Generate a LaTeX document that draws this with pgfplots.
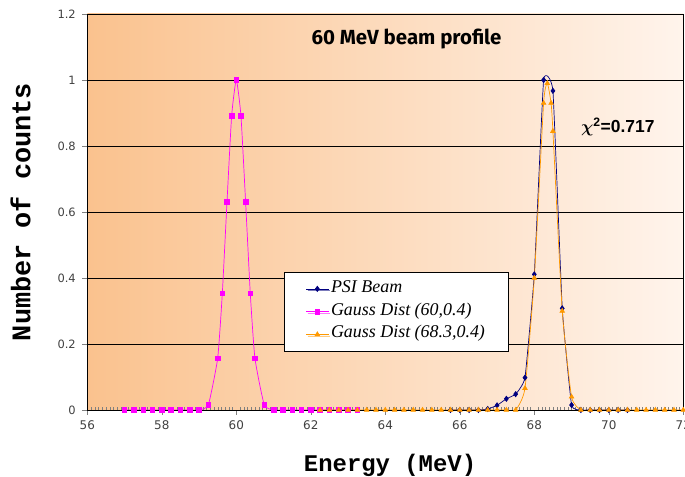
\documentclass[border=0pt]{standalone}
\usepackage{pgfplots}
\pgfplotsset{compat=1.18}
\usepackage{fontspec}
\usepackage{amsmath}
\usetikzlibrary{shadows}
\setmainfont{Liberation Serif}
\newfontfamily\monofont{Liberation Mono}
\newfontfamily\tickfont{DejaVu Sans}
\newfontfamily\arialfont{Liberation Sans}
\newfontfamily\titlefont{Fira Sans}
\definecolor{psiblue}{HTML}{000080}
\definecolor{gpink}{HTML}{FF00FF}
\definecolor{gorange}{HTML}{FF9900}
\definecolor{bgleft}{HTML}{FAC28E}
\definecolor{bgright}{HTML}{FFF4EC}

\begin{document}
\begin{tikzpicture}
\begin{axis}[
  at={(0,0)}, anchor=south west,
  scale only axis, width=596bp, height=396bp,
  xmin=56, xmax=72, ymin=0, ymax=1.2,
  xtick={56,58,...,72},
  xticklabels={56,58,60,62,64,66,68,70,72},
  ytick={0,0.2,0.4,0.6,0.8,1,1.2},
  yticklabels={0,0.2,0.4,0.6,0.8,1,1.2},
  /pgf/number format/assume math mode=true,
  minor x tick num=19,
  xtick pos=bottom, ytick pos=left,
  tick align=outside,
  major tick length=5bp, minor tick length=3bp,
  minor x tick style={yshift=3bp},
  ymajorgrids,
  grid style={black, line width=0.6bp},
  axis line style={black, line width=0.75bp},
  axis background/.style={left color=bgleft, right color=bgright},
  tick label style={text=black!75},
  xticklabel style={font=\tickfont\fontsize{12}{14}\selectfont, yshift=-2bp},
  yticklabel style={font=\tickfont\fontsize{11.5}{13}\selectfont, xshift=-3bp},
  xlabel={Energy (MeV)}, ylabel={Number of counts},
  xlabel style={font=\monofont\bfseries\fontsize{24}{28}\selectfont,
    at={(axis description cs:0.508,-0.139)}, anchor=center},
  ylabel style={font=\monofont\bfseries\fontsize{27}{30}\selectfont,
    at={(axis description cs:-0.112,0.5)}, anchor=center},
  legend style={at={(axis cs:61.29,0.418)}, anchor=north west,
    draw=black, fill=white, line width=0.6bp,
    font=\itshape\fontsize{18}{20}\selectfont,
    cells={anchor=west},
    nodes={text height=10bp, text depth=3bp, inner sep=2bp},
    row sep=5.8bp, inner xsep=21bp, inner ysep=8bp,
    drop shadow={shadow xshift=1.5bp, shadow yshift=-1.5bp, fill=black!45}},
  legend image code/.code={\draw[mark repeat=2,mark phase=2,#1]
    plot coordinates {(0cm,0cm) (0.4cm,0cm) (0.8cm,0cm)};},
  every axis plot/.append style={line width=0.7bp, smooth, tension=0.3},
]
% PSI beam
\addplot[color=psiblue, tension=0.2, mark=diamond*, mark size=2.6bp, mark options={solid, fill=psiblue}] coordinates {
  (65.75,0) (66.0,0) (66.25,0) (66.5,0) (66.75,0.003) (67.0,0.014)
  (67.25,0.034) (67.5,0.048) (67.75,0.098) (68.0,0.411) (68.25,1.0)
  (68.5,0.967) (68.75,0.308) (69.0,0.015) (69.25,0) (69.5,0) (69.75,0)
  (70.0,0) (70.25,0) (70.5,0)
};
\addlegendentry{PSI Beam}
% Gauss (60,0.4)
\addplot[color=gpink, mark=square*, mark size=2.3bp, mark options={solid, fill=gpink}] coordinates {
  (57.0,0) (57.25,0) (57.5,0) (57.75,0) (58.0,0) (58.25,0) (58.5,0)
  (58.75,0) (59.0,0) (59.25,0.016) (59.5,0.157) (59.625,0.354)
  (59.75,0.630) (59.875,0.891) (60.0,1.0) (60.125,0.891) (60.25,0.630)
  (60.375,0.354) (60.5,0.157) (60.75,0.016) (61.0,0) (61.25,0) (61.5,0)
  (61.75,0) (62.0,0) (62.25,0) (62.5,0) (62.75,0) (63.0,0) (63.25,0)
};
\addlegendentry{Gauss Dist (60,0.4)}
% Gauss (68.3,0.4)
\addplot[color=gorange, mark=triangle*, mark size=2.6bp, mark options={solid, fill=gorange}] coordinates {
  (62.25,0) (62.5,0) (62.75,0) (63.0,0) (63.25,0) (63.5,0) (63.75,0)
  (64.0,0) (64.25,0) (64.5,0) (64.75,0) (65.0,0) (65.25,0) (65.5,0)
  (65.75,0) (66.0,0) (66.25,0) (66.5,0) (66.75,0) (67.0,0) (67.25,0)
  (67.5,0) (67.75,0.066) (68.0,0.40) (68.25,0.93) (68.35,0.99)
  (68.45,0.93) (68.5,0.845) (68.75,0.30) (69.0,0.04) (69.25,0) (69.5,0)
  (69.75,0) (70.0,0) (70.25,0) (70.5,0) (70.75,0) (71.0,0) (71.25,0)
  (71.5,0) (71.75,0) (72.0,0)
};
\addlegendentry{Gauss Dist (68.3,0.4)}
\node[font=\titlefont\bfseries\fontsize{20.5}{22}\selectfont] at (axis cs:64.57,1.124) {60 MeV beam profile};
\node[anchor=west, font=\arialfont\bfseries\fontsize{17.5}{19}\selectfont, inner sep=0pt] at (axis cs:69.25,0.858) {$\boldsymbol{\chi}$\textsuperscript{2}=0.717};
\end{axis}
\pgfresetboundingbox
\useasboundingbox (-87.3bp,-67bp) rectangle (597.7bp,410bp);
\end{tikzpicture}
\end{document}
